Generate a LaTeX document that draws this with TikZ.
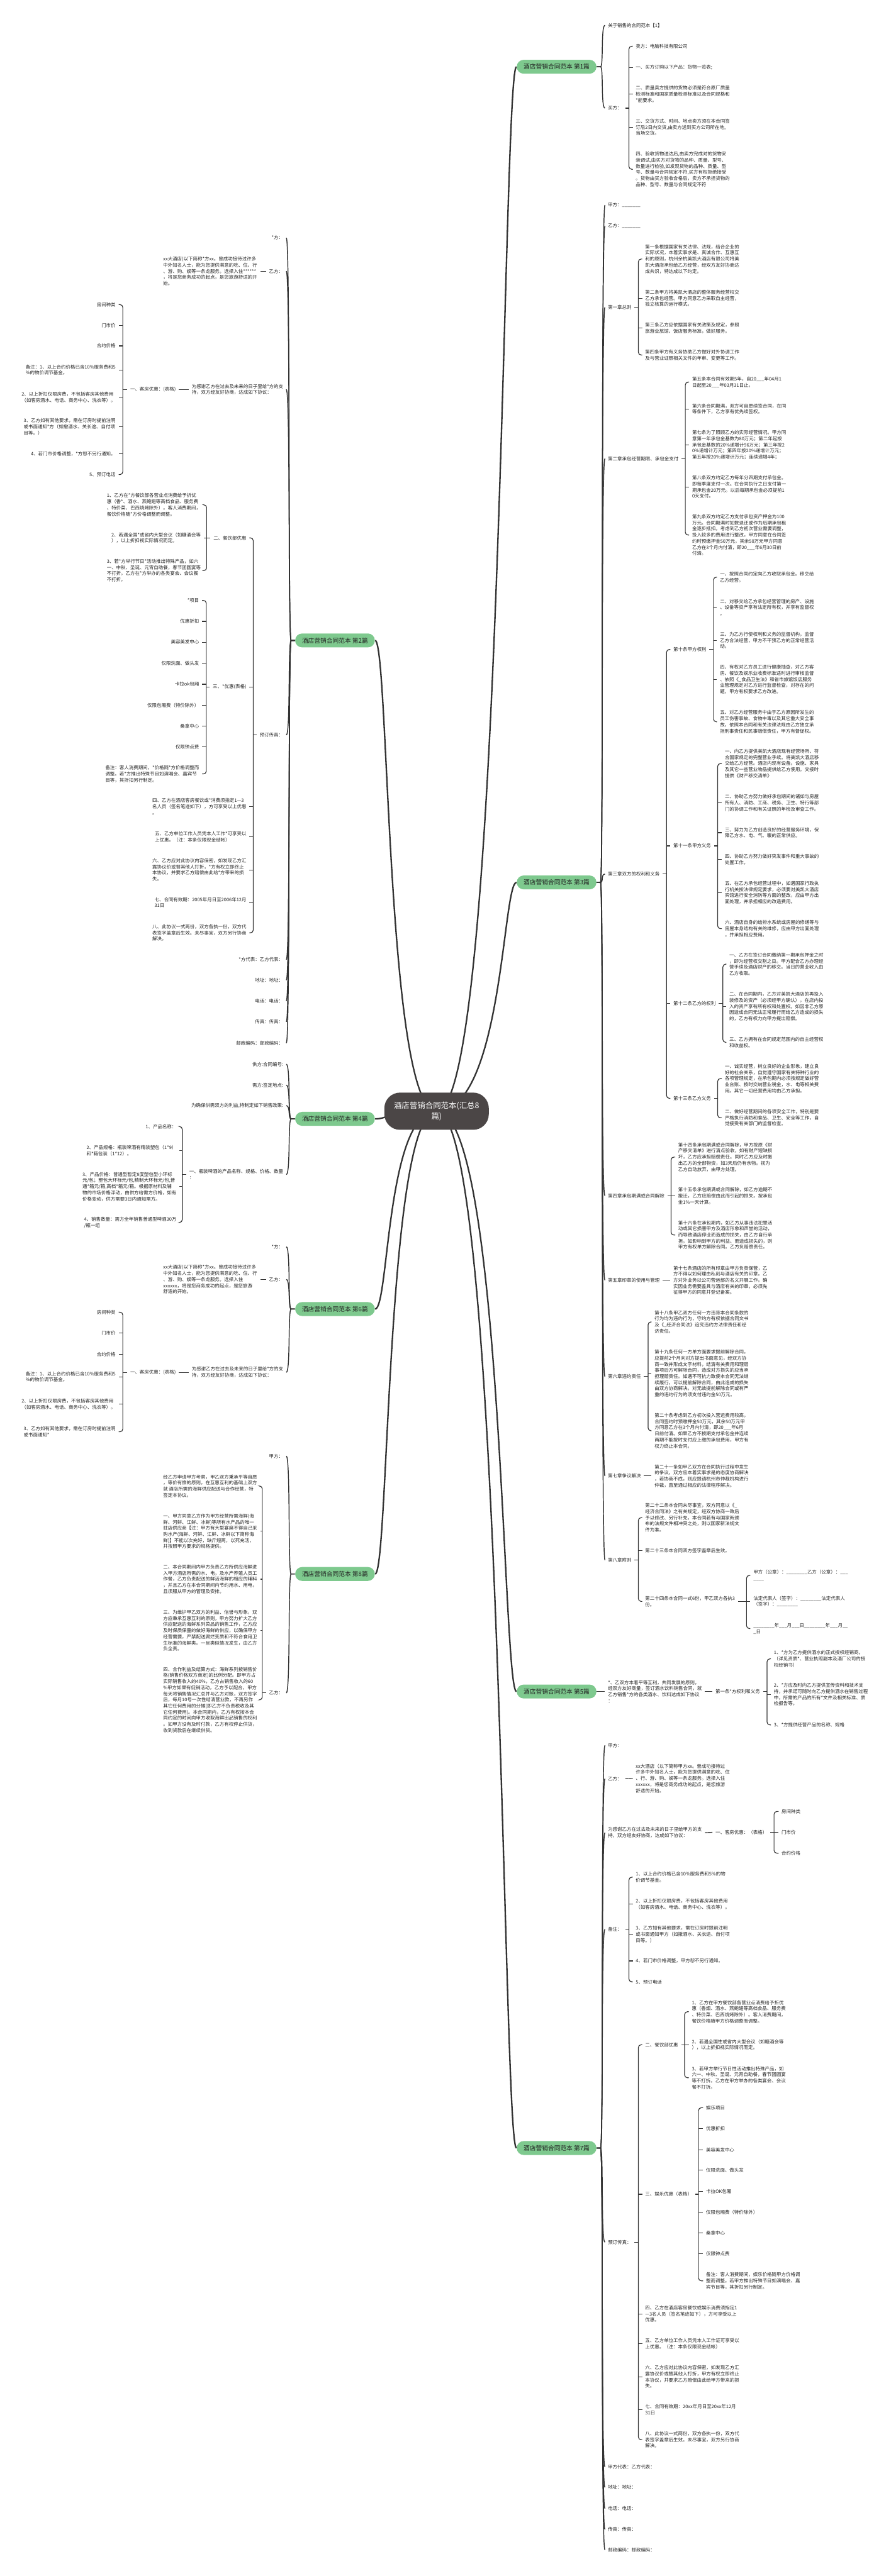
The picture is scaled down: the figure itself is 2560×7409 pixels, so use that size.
\documentclass[tikz,border=0pt]{standalone}
\usepackage{fontspec}
\setmainfont{Noto Sans CJK SC}
\usetikzlibrary{backgrounds}

\definecolor{topicgreen}{RGB}{126,201,142}
\definecolor{hubgrey}{RGB}{75,70,70}
\definecolor{linkgrey}{RGB}{51,51,51}
\definecolor{inkgrey}{RGB}{34,34,34}

\tikzset{
  txt/.style={inner xsep=2.3pt, inner ysep=0.6pt, align=left, text=inkgrey, font=\fontsize{3.84pt}{5pt}\selectfont},
  rtxt/.style={txt, anchor=west},
  ltxt/.style={txt, anchor=east},
  topic/.style={fill=topicgreen, rounded corners=0.2cm, minimum width=2.29cm, minimum height=0.4cm, inner sep=0pt, text=inkgrey, font=\fontsize{5pt}{6pt}\selectfont},
  hub/.style={fill=hubgrey, rounded corners=0.45cm, minimum width=3cm, minimum height=1.07cm, align=center, text=white, font=\fontsize{6.4pt}{8.5pt}\selectfont},
  link/.style={draw=linkgrey, line width=0.6pt},
  fork/.style={link, rounded corners=2.3pt},
  branch/.style={draw=linkgrey, line width=0.75pt},
  trunk/.style={draw=linkgrey, line width=1.2pt},
}

\begin{document}
\begin{tikzpicture}[x=0.01cm, y=-0.01cm]
  \useasboundingbox (0,0) rectangle (2560,7409);

  % hub and the eight topics
  \node[hub] (hub) at (1255,3196) {酒店营销合同范本(汇总8\\篇)};
  \node[topic] (p1) at (1600,192) {酒店营销合同范本 第1篇};
  \node[topic] (p3) at (1600,2538) {酒店营销合同范本 第3篇};
  \node[topic] (p5) at (1600,4865) {酒店营销合同范本 第5篇};
  \node[topic] (p7) at (1600,6178) {酒店营销合同范本 第7篇};
  \node[topic] (p2) at (963,1842) {酒店营销合同范本 第2篇};
  \node[topic] (p4) at (963,3218) {酒店营销合同范本 第4篇};
  \node[topic] (p6) at (963,3765) {酒店营销合同范本 第6篇};
  \node[topic] (p8) at (963,4527) {酒店营销合同范本 第8篇};

  % ---- topic 1
  \node[rtxt] (about) at (1739,73) {关于销售的合同范本【1】};
  \node[rtxt] (buyer) at (1739,311) {买方：};
  \node[rtxt] (seller) at (1819,133) {卖方：电脑科技有限公司};
  \node[rtxt] (order) at (1819,194) {一、买方订购以下产品：货物一览表;};
  \node[rtxt] (quality) at (1819,271) {二、质量卖方提供的货物必须是符合原厂质量\\检测标准和国家质量检测标准以及合同规格和\\*能要求。};
  \node[rtxt] (deliver) at (1819,366) {三、交货方式、时间、地点卖方须在本合同签\\订后2日内交货,由卖方送到买方公司所在地,\\当场交货。};
  \node[rtxt] (check) at (1819,487) {四、验收货物送达后,由卖方完成对的货物安\\装调试,由买方对货物的品种、质量、型号、\\数量进行检验,如发现货物的品种、质量、型\\号、数量与合同规定不符,买方有权拒绝接受\\。货物由买方验收合格后，卖方不承担货物的\\品种、型号、数量与合同规定不符};

  % ---- topic 3
  \node[rtxt] (partyA) at (1739,590) {甲方：\_\_\_\_\_\_\_};
  \node[rtxt] (partyB) at (1739,650) {乙方：\_\_\_\_\_\_\_};
  \node[rtxt] (ch1) at (1739,884) {第一章总则};
  \node[rtxt] (a1) at (1846,745) {第一条根据国家有关法律、法规，结合企业的\\实际状况，本着实事求是、真诚合作、互惠互\\利的原则，杭州余杭美凯大酒店有限公司将美\\凯大酒店承包给乙方经营，经双方友好协商达\\成共识，特达成以下约定。};
  \node[rtxt] (a2) at (1846,858) {第二条甲方将美凯大酒店的整体服务经营权交\\乙方承包经营。甲方同意乙方采取自主经营，\\独立核算的运行模式。};
  \node[rtxt] (a3) at (1846,944) {第三条乙方应依据国家有关政策及规定，参照\\旅游业旅馆、饭店服务标准，做好服务。};
  \node[rtxt] (a4) at (1846,1021) {第四条甲方有义务协助乙方做好对外协调工作\\及与营业证照相关文件的年审、变更等工作。};
  \node[rtxt] (ch2) at (1739,1319) {第二章承包经营期限、承包金支付};
  \node[rtxt] (a5) at (1981,1099) {第五条本合同有效期5年，自20\_\_\_年04月1\\日起至20\_\_\_年03月31日止。};
  \node[rtxt] (a6) at (1981,1176) {第六条合同期满，双方可自愿续签合同，在同\\等条件下，乙方享有优先续签权。};
  \node[rtxt] (a7) at (1981,1280) {第七条为了照顾乙方的实际经营情况。甲方同\\意第一年承包金基数为80万元；第二年起按\\承包金基数的20\%递增计96万元；第三年按2\\0\%递增计万元；第四年按20\%递增计万元；\\第五年按20\%递增计万元；连续递增4年；};
  \node[rtxt] (a8) at (1981,1401) {第八条双方约定乙方每年分四期支付承包金。\\即每季度支付一次。在合同执行之日支付第一\\期承包金20万元。以后每期承包金必须提前1\\0天支付。};
  \node[rtxt] (a9) at (1981,1539) {第九条双方约定乙方支付承包资产押金为100\\万元。合同期满时如数退还或作为后期承包租\\金逐步抵扣。考虑到乙方初次营业需要调整，\\投入较多的费用进行整改，甲方同意在合同签\\约时预缴押金50万元，其余50万元甲方同意\\乙方在3个月内付清，即20\_\_\_年6月30日前\\付清。};
  \node[rtxt] (ch3) at (1739,2514) {第三章双方的权利和义务};
  \node[rtxt] (art10) at (1927,1868) {第十条甲方权利};
  \node[rtxt] (r1) at (2061,1660) {一、按照合同约定向乙方收取承包金。移交给\\乙方经营。};
  \node[rtxt] (r2) at (2061,1747) {二、对移交给乙方承包经营管理的房产、设施\\、设备等资产享有法定所有权，并享有监督权\\。};
  \node[rtxt] (r3) at (2061,1842) {三、为乙方行使权利和义务的监督机构，监督\\乙方合法经营，甲方不干预乙方的正常经营活\\动。};
  \node[rtxt] (r4) at (2061,1954) {四、有权对乙方员工进行健康抽查，对乙方客\\房、餐饮及娱乐业收费标准适时进行审核监督\\、依照《\_食品卫生法》和省市旅馆饭店服务\\业管理规定对乙方进行监督检查，对存在的问\\题，甲方有权要求乙方改进。};
  \node[rtxt] (r5) at (2061,2076) {五、对乙方经营服务中由于乙方原因所发生的\\员工伤害事故、食物中毒以及其它重大安全事\\故，依照本合同和有关法律法规由乙方独立承\\担刑事责任和民事赔偿责任，甲方有督促权。};
  \node[rtxt] (art11) at (1927,2433) {第十一条甲方义务};
  \node[rtxt] (d1) at (2075,2196) {一、向乙方提供美凯大酒店现有经营场所、符\\合国家规定的完整营业手续。将美凯大酒店移\\交给乙方经营。酒店内现有设备。设施、家具\\及其它一些营业物品提供给乙方使用。交接时\\提供《财产移交清单》};
  \node[rtxt] (d2) at (2075,2309) {二、协助乙方努力做好承包期间的诸如与房屋\\所有人、消防、工商、税务、卫生、特行等部\\门的协调工作和有关证照的年检及审查工作。};
  \node[rtxt] (d3) at (2075,2395) {三、努力为乙方创造良好的经营服务环境，保\\障乙方水、电、气、暖的正常供应。};
  \node[rtxt] (d4) at (2075,2472) {四、协助乙方努力做好突发事件和重大事故的\\处置工作。};
  \node[rtxt] (d5) at (2075,2567) {五、在乙方承包经营过程中，如遇国家行政执\\行机关按法律规定要求，必须要对美凯大酒店\\宾馆进行安全消防等方面的整改，应由甲方出\\面处理，并承担相应的改造费用。};
  \node[rtxt] (d6) at (2075,2671) {六、酒店自身的给排水系统或房屋的修缮等与\\房屋本身结构有关的维修，应由甲方出面处理\\，并承担相应费用。};
  \node[rtxt] (art12) at (1927,2886) {第十二条乙方的权利};
  \node[rtxt] (e1) at (2088,2773) {一、乙方在签订合同缴纳第一期承包押金之时\\，即为经营权交割之日。甲方配合乙方办理经\\营手续及酒店财产的移交。当日的营业收入由\\乙方收取。};
  \node[rtxt] (e2) at (2088,2895) {二、在合同期内，乙方对美凯大酒店的再投入\\装修及的资产（必须经甲方确认），在店内投\\入的资产享有所有权和处置权。如因非乙方原\\因造成合同无法正常履行而给乙方造成的损失\\的，乙方有权力向甲方提出赔偿。};
  \node[rtxt] (e3) at (2088,2998) {三、乙方拥有在合同规定范围内的自主经营权\\和收益权。};
  \node[rtxt] (art13) at (1927,3159) {第十三条乙方义务};
  \node[rtxt] (f1) at (2075,3102) {一、诚实经营，树立良好的企业形象，建立良\\好的社会关系，自觉遵守国家有关特种行业的\\各项管理规定，在承包期内必须按规定做好营\\业台账、按时交纳营业税金，水、电等相关费\\用。其它一切经营费用均由乙方承担。};
  \node[rtxt] (f2) at (2075,3215) {二、做好经营期间的各项安全工作，特别是要\\严格执行消防和食品、卫生、安全等工作，自\\觉接受有关部门的监督检查。};
  \node[rtxt] (ch4) at (1739,3439) {第四章承包期满或合同解除};
  \node[rtxt] (a14) at (1941,3328) {第十四条承包期满或合同解除，甲方按原《财\\产移交清单》进行清点验收，如有财产短缺损\\坏，乙方应承担赔偿责任。同时乙方应及时搬\\出乙方的全部物资，如3天后仍有余物。视为\\乙方自动放弃，由甲方处理。};
  \node[rtxt] (a15) at (1941,3440) {第十五条承包期满或合同解除，如乙方逾期不\\搬迁，乙方应赔偿由此而引起的损失。按承包\\金1\%一天计算。};
  \node[rtxt] (a16) at (1941,3552) {第十六条在承包期内，如乙方从事违法犯罪活\\动或其它损害甲方及酒店形象和声誉的活动，\\而导致酒店停业而造成的损失，由乙方自行承\\担。如影响到甲方的利益、而造成损失的，则\\甲方有权单方解除合同。乙方负赔偿责任。};
  \node[rtxt] (ch5) at (1739,3682) {第五章印章的使用与管理};
  \node[rtxt] (a17) at (1927,3682) {第十七条酒店的所有印章由甲方负责保管，乙\\方不得以如何理由私刻与酒店有关的印章。乙\\方对外业务以公司营运部的名义开展工作。确\\实因业务需要盖具与酒店有关的印章，必须先\\征得甲方的同意并登记备案。};
  \node[rtxt] (ch6) at (1739,3959) {第六章违约责任};
  \node[rtxt] (a18) at (1873,3802) {第十八条甲乙双方任何一方违背本合同条款的\\行为均为违约行为，守约方有权依据合同文书\\及《\_经济合同法》追究违约方法律责任和经\\济责任。};
  \node[rtxt] (a19) at (1873,3950) {第十九条任何一方单方面要求提前解除合同，\\应提前2个月向对方提出书面意见，经双方协\\商一致并形成文字材料，结清有关费用和理赔\\事项后方可解除合同，造成对方损失的应当承\\担理赔责任。如遇不可抗力致使本合同无法继\\续履行，可以提前解除合同，由此造成的损失\\由双方协商解决。对无故提前解除合同或有严\\重的违约行为的须支付违约金50万元。};
  \node[rtxt] (a20) at (1873,4115) {第二十条考虑到乙方初次投入营运费用较高，\\合同签约时预缴押金50万元，其余50万元甲\\方同意乙方在3个月内付清，即20\_\_\_年6月\\日前付清。如果乙方不按期支付承包金并连续\\两期不能按时支付应上缴的承包费用，甲方有\\权力终止本合同。};
  \node[rtxt] (ch7) at (1739,4245) {第七章争议解决};
  \node[rtxt] (a21) at (1873,4245) {第二十一条如甲乙双方在合同执行过程中发生\\的争议，双方应本着实事求是的态度协商解决\\，若协商不成，则应提请杭州市仲裁机构进行\\仲裁，直至通过相应的法律程序解决。};
  \node[rtxt] (ch8) at (1739,4487) {第八章附则};
  \node[rtxt] (a22) at (1846,4365) {第二十二条本合同未尽事宜，双方同意以《\_\\经济合同法》之有关规定，经双方协商一致后\\予以修改、另行补充。本合同若有与国家新颁\\布的法规文件相冲突之处，则以国家新法规文\\件为准。};
  \node[rtxt] (a23) at (1846,4460) {第二十三条本合同双方签字盖章后生效。};
  \node[rtxt] (a24) at (1846,4606) {第二十四条本合同一式6份，甲乙双方各执3\\份。};
  \node[rtxt] (s1) at (2157,4531) {甲方（公章）：\_\_\_\_\_\_\_\_乙方（公章）：\_\_\_\\\_\_\_\_};
  \node[rtxt] (s2) at (2157,4606) {法定代表人（签字）：\_\_\_\_\_\_\_\_法定代表人\\（签字）：\_\_\_\_\_\_\_\_};
  \node[rtxt] (s3) at (2157,4684) {\_\_\_\_\_\_\_\_年\_\_\_月\_\_\_日\_\_\_\_\_\_\_\_年\_\_\_月\_\_\\\_日};

  % ---- topic 5
  \node[rtxt] (intro) at (1739,4865) {*、乙双方本着平等互利，共同发展的原则，\\经双方友好商量，签订酒水饮料销售合同，就\\乙方销售*方的各类酒水、饮料达成如下协议\\：};
  \node[rtxt] (art1) at (2048,4865) {第一条*方权利和义务};
  \node[rtxt] (w1) at (2216,4771) {1、*方为乙方提供酒水的正式授权经销商。\\（详见资质*、营业执照副本及酒厂公司的授\\权经销书）};
  \node[rtxt] (w2) at (2216,4874) {2、*方应及时向乙方提供宣传资料和技术支\\持，并承诺可随时向乙方提供酒水在销售过程\\中，所需的产品的所有*文件及相关标准、质\\检报告等。};
  \node[rtxt] (w3) at (2216,4961) {3、*方提供经营产品的名称、规格};

  % ---- topic 7
  \node[rtxt] (jia7) at (1739,5020) {甲方：};
  \node[rtxt] (yi7) at (1739,5116) {乙方：};
  \node[rtxt] (hotel7) at (1819,5115) {xx大酒店（以下简称甲方xx。曾成功接待过\\许多中外知名人士，能为您提供满意的吃、住\\、行、游、购、娱等一条龙服务。选择入住\\xxxxxx，将是您商务成功的起点，是您旅游\\舒适的开始。};
  \node[rtxt] (thanks7) at (1739,5271) {为感谢乙方在过去及未来的日子里给甲方的支\\持，双方经友好协商，达成如下协议：};
  \node[rtxt] (room7) at (2048,5270) {一、客房优惠：（表格）};
  \node[rtxt] (kind7) at (2238,5210) {房间种类};
  \node[rtxt] (rack7) at (2238,5270) {门市价};
  \node[rtxt] (rate7) at (2238,5330) {合约价格};
  \node[rtxt] (note7) at (1739,5549) {备注：};
  \node[rtxt] (n1) at (1819,5399) {1、以上合约价格已含10\%服务费和5\%的物\\价调节基金。};
  \node[rtxt] (n2) at (1819,5476) {2、以上折扣仅限房费，不包括客房其他费用\\（如客房酒水、电话、商务中心、洗衣等）。};
  \node[rtxt] (n3) at (1819,5563) {3、乙方如有其他要求，需在订房时提前注明\\或书面通知甲方（如撤酒水、关长途、自付项\\目等。）};
  \node[rtxt] (n4) at (1819,5640) {4、若门市价格调整，甲方恕不另行通知。};
  \node[rtxt] (n5) at (1819,5700) {5、预订电话};
  \node[rtxt] (fax7) at (1739,6449) {预订传真：};
  \node[rtxt] (dine7) at (1846,5881) {二、餐饮部优惠};
  \node[rtxt] (g1) at (1980,5786) {1、乙方在甲方餐饮部各营业点消费给予折优\\惠（香烟、酒水、燕鲍翅等高档食品、服务费\\、特价菜、巴西烧烤除外）。客人消费期间，\\餐饮价格随甲方价格调整而调整。};
  \node[rtxt] (g2) at (1980,5881) {2、若遇全国性或省内大型会议（如糖酒会等\\），以上折扣视实际情况而定。};
  \node[rtxt] (g3) at (1980,5976) {3、若甲方举行节日性活动推出特殊产品，如\\六一、中秋、圣诞、元宵自助餐，春节团圆宴\\等不打折。乙方在甲方举办的各类宴会、会议\\餐不打折。};
  \node[rtxt] (fun7) at (1846,6311) {三、娱乐优惠（表格）};
  \node[rtxt] (h1) at (2021,6062) {娱乐项目};
  \node[rtxt] (h2) at (2021,6122) {优惠折扣};
  \node[rtxt] (h3) at (2021,6183) {美容美发中心};
  \node[rtxt] (h4) at (2021,6242) {仅限洗面、做头发};
  \node[rtxt] (h5) at (2021,6303) {卡拉OK包厢};
  \node[rtxt] (h6) at (2021,6362) {仅限包厢费（特价除外）};
  \node[rtxt] (h7) at (2021,6422) {桑拿中心};
  \node[rtxt] (h8) at (2021,6482) {仅限钟点费};
  \node[rtxt] (h9) at (2021,6560) {备注：客人消费期间，娱乐价格随甲方价格调\\整而调整。若甲方推出特殊节目如演唱会、嘉\\宾节目等，其折扣另行制定。};
  \node[rtxt] (four7) at (1846,6655) {四、乙方在酒店客房餐饮或娱乐消费须指定1\\—3名人员（签名笔迹如下），方可享受以上\\优惠。};
  \node[rtxt] (five7) at (1846,6741) {五、乙方单位工作人员凭本人工作证可享受以\\上优惠。（注：本条仅限现金结帐）};
  \node[rtxt] (six7) at (1846,6836) {六、乙方应对此协议内容保密，如发现乙方汇\\露协议价或替其他人打折，甲方有权立即终止\\本协议，并要求乙方赔偿由此给甲方带来的损\\失。};
  \node[rtxt] (seven7) at (1846,6931) {七、合同有效期：20xx年月日至20xx年12月\\31日};
  \node[rtxt] (eight7) at (1846,7017) {八、此协议一式两份，双方各执一份，双方代\\表签字盖章后生效。未尽事宜，双方另行协商\\解决。};
  \node[rtxt] (rep7) at (1739,7095) {甲方代表：乙方代表：};
  \node[rtxt] (addr7) at (1739,7154) {地址：地址：};
  \node[rtxt] (tel7) at (1739,7215) {电话：电话：};
  \node[rtxt] (faxno7) at (1739,7275) {传真：传真：};
  \node[rtxt] (post7) at (1739,7334) {邮政编码：邮政编码：};

  % ---- topic 2
  \node[ltxt] (fang2) at (823,684) {*方：};
  \node[ltxt] (yi2) at (823,780) {乙方：};
  \node[ltxt] (hotel2) at (748,780) {xx大酒店(以下简称*方xx。曾成功接待过许多\\中外知名人士，能为您提供满意的吃、住、行\\、游、购、娱等一条龙服务。选择入住******\\，将是您商务成功的起点，是您旅游舒适的开\\始。};
  \node[ltxt] (thanks2) at (823,1120) {为感谢乙方在过去及未来的日子里给*方的支\\持，双方经友好协商，达成如下协议：};
  \node[ltxt] (room2) at (514,1120) {一、客房优惠：(表格)};
  \node[ltxt] (k2) at (341,876) {房间种类};
  \node[ltxt] (m2) at (341,936) {门市价};
  \node[ltxt] (c2) at (341,995) {合约价格};
  \node[ltxt] (n21) at (341,1064) {备注：1、以上合约价格已含10\%服务费和5\\\%的物价调节基金。};
  \node[ltxt] (n22) at (341,1142) {2、以上折扣仅限房费，不包括客房其他费用\\（如客房酒水、电话、商务中心、洗衣等）。};
  \node[ltxt] (n23) at (341,1228) {3、乙方如有其他要求，需在订房时提前注明\\或书面通知*方（如撤酒水、关长途、自付项\\目等。）};
  \node[ltxt] (n24) at (341,1305) {4、若门市价格调整，*方恕不另行通知。};
  \node[ltxt] (n25) at (341,1365) {5、预订电话};
  \node[ltxt] (fax2) at (823,2114) {预订传真：};
  \node[ltxt] (dine2) at (717,1547) {二、餐饮部优惠};
  \node[ltxt] (g21) at (586,1452) {1、乙方在*方餐饮部各营业点消费给予折优\\惠（香*、酒水、燕鲍翅等高档食品、服务费\\、特价菜、巴西烧烤除外）。客人消费期间，\\餐饮价格随*方价格调整而调整。};
  \node[ltxt] (g22) at (586,1547) {2、若遇全国*或省内大型会议（如糖酒会等\\），以上折扣视实际情况而定。};
  \node[ltxt] (g23) at (586,1641) {3、若*方举行节日*活动推出特殊产品，如六\\一、中秋、圣诞、元宵自助餐，春节团圆宴等\\不打折。乙方在*方举办的各类宴会、会议餐\\不打折。};
  \node[ltxt] (fun2) at (717,1976) {三、*优惠(表格)};
  \node[ltxt] (h21) at (581,1727) {*项目};
  \node[ltxt] (h22) at (581,1787) {优惠折扣};
  \node[ltxt] (h23) at (581,1847) {美容美发中心};
  \node[ltxt] (h24) at (581,1908) {仅限洗面、做头发};
  \node[ltxt] (h25) at (581,1968) {卡拉ok包厢};
  \node[ltxt] (h26) at (581,2028) {仅限包厢费（特价除外）};
  \node[ltxt] (h27) at (581,2088) {桑拿中心};
  \node[ltxt] (h28) at (581,2148) {仅限钟点费};
  \node[ltxt] (h29) at (581,2226) {备注：客人消费期间，*价格随*方价格调整而\\调整。若*方推出特殊节目如演唱会、嘉宾节\\目等，其折扣另行制定。};
  \node[ltxt] (four2) at (717,2320) {四、乙方在酒店客房餐饮或*消费须指定1—3\\名人员（签名笔迹如下），方可享受以上优惠\\。};
  \node[ltxt] (five2) at (717,2407) {五、乙方单位工作人员凭本人工作*可享受以\\上优惠。（注：本条仅限现金结帐）};
  \node[ltxt] (six2) at (717,2502) {六、乙方应对此协议内容保密，如发现乙方汇\\露协议价或替其他人打折，*方有权立即终止\\本协议，并要求乙方赔偿由此给*方带来的损\\失。};
  \node[ltxt] (seven2) at (717,2596) {七、合同有效期：2005年月日至2006年12月\\31日};
  \node[ltxt] (eight2) at (717,2683) {八、此协议一式两份，双方各执一份，双方代\\表签字盖章后生效。未尽事宜，双方另行协商\\解决。};
  \node[ltxt] (rep2) at (823,2760) {*方代表：乙方代表：};
  \node[ltxt] (addr2) at (823,2819) {地址：地址：};
  \node[ltxt] (tel2) at (823,2879) {电话：电话：};
  \node[ltxt] (faxno2) at (823,2939) {传真：传真：};
  \node[ltxt] (post2) at (823,3000) {邮政编码：邮政编码：};

  % ---- topic 4
  \node[ltxt] (supply4) at (823,3061) {供方:合同编号:};
  \node[ltxt] (demand4) at (823,3121) {需方:签定地点:};
  \node[ltxt] (policy4) at (823,3180) {为确保供需双方的利益,特制定如下销售政策:};
  \node[ltxt] (beer4) at (823,3378) {一、瓶装啤酒的产品名称、规格、价格、数量\\：};
  \node[ltxt] (b1) at (516,3240) {1、产品名称：};
  \node[ltxt] (b2) at (516,3309) {2、产品规格：瓶装啤酒有精装塑包（1*9）\\和*箱包装（1*12）。};
  \node[ltxt] (b3) at (516,3413) {3、产品价格：普通型暂定8度塑包型小环标\\元/包；塑包大环标元/包,精制大环标元/包,普\\通*箱元/箱,高档*箱元/箱。根据原材料及辅\\物的市场价格浮动，由供方给需方价格，如有\\价格变动，供方需要3日内通知需方。};
  \node[ltxt] (b4) at (516,3516) {4、销售数量：需方全年销售普通型啤酒30万\\/瓶一组};

  % ---- topic 6
  \node[ltxt] (fang6) at (823,3586) {*方：};
  \node[ltxt] (yi6) at (823,3680) {乙方：};
  \node[ltxt] (hotel6) at (748,3680) {xx大酒店(以下简称*方xx。曾成功接待过许多\\中外知名人士，能为您提供满意的吃、住、行\\、游、购、娱等一条龙服务。选择入住\\xxxxxx，将是您商务成功的起点，是您旅游\\舒适的开始。};
  \node[ltxt] (thanks6) at (823,3947) {为感谢乙方在过去及未来的日子里给*方的支\\持，双方经友好协商，达成如下协议：};
  \node[ltxt] (room6) at (514,3947) {一、客房优惠：(表格)};
  \node[ltxt] (k6) at (341,3774) {房间种类};
  \node[ltxt] (m6) at (341,3834) {门市价};
  \node[ltxt] (c6) at (341,3895) {合约价格};
  \node[ltxt] (n61) at (341,3960) {备注：1、以上合约价格已含10\%服务费和5\\\%的物价调节基金。};
  \node[ltxt] (n62) at (341,4038) {2、以上折扣仅限房费，不包括客房其他费用\\（如客房酒水、电话、商务中心、洗衣等）。};
  \node[ltxt] (n63) at (341,4118) {3、乙方如有其他要求，需在订房时提前注明\\或书面通知*};

  % ---- topic 8
  \node[ltxt] (jia8) at (823,4188) {甲方：};
  \node[ltxt] (yi8) at (823,4869) {乙方：};
  \node[ltxt] (q0) at (748,4274) {经乙方申请甲方考察，甲乙双方秉承平等自愿\\，等价有偿的原则，在互惠互利的基础上双方\\就 酒店所需的海鲜供应配送与合作经营，特\\签定本协议。};
  \node[ltxt] (q1) at (748,4404) {一、甲方同意乙方作为甲方经营所需海鲜(海\\鲜、河鲜、江鲜、冰鲜)等所有水产品的唯一\\驻店供应商【注：甲方有大型宴席不得自己采\\购水产(海鲜、河鲜、江鲜、冰鲜以下简称海\\鲜)】不能以次充好，缺斤短两，以死充活，\\并按照甲方要求的规格提供。};
  \node[ltxt] (q2) at (748,4542) {二、本合同期间内甲方负责乙方所供应海鲜进\\入甲方酒店所需的水、电，及水产养殖人员工\\作餐，乙方负责配送的鲜活海鲜的相应的辅料\\，并且乙方在本合同期间内节约用水、用电，\\且须服从甲方的管理及安排。};
  \node[ltxt] (q3) at (748,4690) {三、为维护甲乙双方的利益、信誉与形象，双\\方应秉承互惠互利的原则，甲方努力扩大乙方\\供应配送的海鲜系列菜品的销售工作，乙方应\\及时保质保量的做好海鲜的供应，以确保甲方\\经营需要，严禁配送腐烂变质和不符合食用卫\\生标准的海鲜类。一旦类似情况发生，由乙方\\负全责。};
  \node[ltxt] (q4) at (748,4889) {四、合作利益及结算方式：海鲜系列按销售价\\格(销售价格双方商定)的比例分配。即甲方占\\实际销售收入的40\%，乙方占销售收入的60\\\%甲方如果有促销活动，乙方予以配合，甲方\\每天将销售情况汇总并与乙方对账，双方签字\\后，每月10号一次性结清营业款，不再另作\\其它任何费用的分摊(即乙方不负责税收及其\\它任何费用)。本合同期内，乙方有权按本合\\同约定的时间向甲方收取海鲜出品销售的权利\\。如甲方没有及时付款，乙方有权停止供货，\\收到货款后在继续供货。};

  % spines of the forks
  \coordinate (sa) at (1808,0);  \coordinate (sb) at (1835,0);
  \coordinate (sc) at (1970,0);  \coordinate (sd) at (1916,0);
  \coordinate (se) at (2051,0);  \coordinate (sf) at (2063,0);
  \coordinate (sg) at (2078,0);  \coordinate (si) at (1929,0);
  \coordinate (sj) at (1863,0);  \coordinate (sl) at (2146,0);
  \coordinate (sm) at (2205,0);  \coordinate (sn) at (2225,0);
  \coordinate (sq) at (1968,0);  \coordinate (sr) at (2008,0);
  \coordinate (ta) at (353,0);   \coordinate (tb) at (728,0);
  \coordinate (tc) at (594,0);   \coordinate (td) at (593,0);
  \coordinate (te) at (524,0);   \coordinate (tg) at (754,0);

  % hub to topics
  \begin{scope}[on background layer]
    \foreach \t in {p1,p3,p5,p7}
      \draw[trunk] (hub.center) .. controls +(190,0) and +(-40,0) .. (\t.west);
    \foreach \t in {p2,p4,p6,p8}
      \draw[trunk] (hub.center) .. controls +(-145,0) and +(40,0) .. (\t.east);
  \end{scope}

  % topics to their first items
  \foreach \t/\c in {p1/about,p1/buyer,p3/partyA,p3/partyB,p3/ch1,p3/ch2,p3/ch3,p3/ch4,p3/ch5,p3/ch6,p3/ch7,p3/ch8,
      p5/intro,p7/jia7,p7/yi7,p7/thanks7,p7/note7,p7/fax7,p7/rep7,p7/addr7,p7/tel7,p7/faxno7,p7/post7}
    \draw[branch] (\t.east) -- ++(11,0) .. controls +(9,0) and +(-12,0) .. (\c.west);
  \foreach \t/\c in {p2/fang2,p2/yi2,p2/thanks2,p2/fax2,p2/rep2,p2/addr2,p2/tel2,p2/faxno2,p2/post2,
      p4/supply4,p4/demand4,p4/policy4,p4/beer4,p6/fang6,p6/yi6,p6/thanks6,p8/jia8,p8/yi8}
    \draw[branch] (\t.west) -- ++(-11,0) .. controls +(-9,0) and +(12,0) .. (\c.east);

  % forks on the right: parent / spine / first / last
  \foreach \p/\s/\f/\l in {buyer/sa/seller/check, ch1/sb/a1/a4, ch2/sc/a5/a9, ch3/sd/art10/art13,
      art10/se/r1/r5, art11/sf/d1/d6, art12/sg/e1/e3, art13/sf/f1/f2, ch4/si/a14/a16, ch6/sj/a18/a20,
      ch8/sb/a22/a24, a24/sl/s1/s3, art1/sm/w1/w3, room7/sn/kind7/rate7, note7/sa/n1/n5,
      fax7/sb/dine7/eight7, dine7/sq/g1/g3, fun7/sr/h1/h9}
  {
    \draw[link] (\p.east) -- (\p.east -| \s);
    \draw[fork] (\f.west) -- (\f.west -| \s) -- (\l.west -| \s) -- (\l.west);
  }
  \foreach \s/\n in {sa/order,sa/quality,sa/deliver,sb/a2,sb/a3,sc/a6,sc/a7,sc/a8,sd/art11,sd/art12,
      se/r2,se/r3,se/r4,sf/d2,sf/d3,sf/d4,sf/d5,sg/e2,si/a15,sj/a19,sb/a23,sl/s2,sm/w2,sn/rack7,
      sa/n2,sa/n3,sa/n4,sb/fun7,sb/four7,sb/five7,sb/six7,sb/seven7,sq/g2,
      sr/h2,sr/h3,sr/h4,sr/h5,sr/h6,sr/h7,sr/h8}
    \draw[link] (\n.west -| \s) -- (\n.west);

  % forks on the left
  \foreach \p/\s/\f/\l in {room2/ta/k2/n25, fax2/tb/dine2/eight2, dine2/tc/g21/g23, fun2/td/h21/h29,
      beer4/te/b1/b4, room6/ta/k6/n63, yi8/tg/q0/q4}
  {
    \draw[link] (\p.west) -- (\p.west -| \s);
    \draw[fork] (\f.east) -- (\f.east -| \s) -- (\l.east -| \s) -- (\l.east);
  }
  \foreach \s/\n in {ta/m2,ta/c2,ta/n21,ta/n22,ta/n23,ta/n24,tb/fun2,tb/four2,tb/five2,tb/six2,tb/seven2,
      tc/g22,td/h22,td/h23,td/h24,td/h25,td/h26,td/h27,td/h28,te/b2,te/b3,
      ta/m6,ta/c6,ta/n61,ta/n62,tg/q1,tg/q2,tg/q3}
    \draw[link] (\n.east -| \s) -- (\n.east);

  % single children
  \foreach \a/\b in {ch5/a17,ch7/a21,intro/art1,yi7/hotel7,thanks7/room7}
    \draw[link] (\a.east) -- (\b.west);
  \foreach \a/\b in {yi2/hotel2,thanks2/room2,yi6/hotel6,thanks6/room6}
    \draw[link] (\a.west) -- (\b.east);
\end{tikzpicture}
\end{document}
